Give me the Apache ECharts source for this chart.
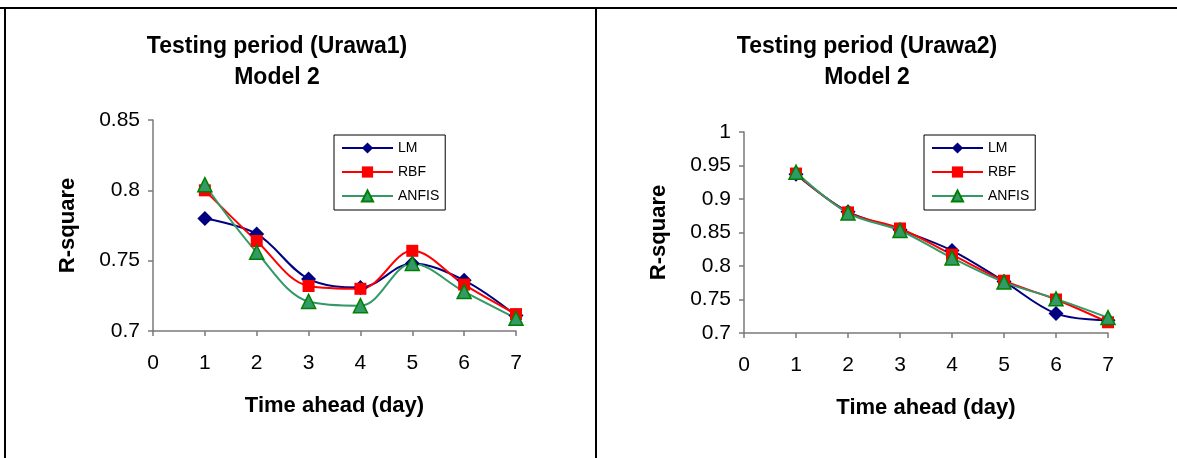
<!DOCTYPE html>
<html>
<head>
<meta charset="utf-8">
<title>Testing period R-square</title>
<script src="https://cdn.jsdelivr.net/npm/echarts@6/dist/echarts.min.js"></script>
<style>
  html, body { margin: 0; padding: 0; background: #fff; }
  #main { width: 1177px; height: 458px; }
</style>
</head>
<body>
<div id="main"></div>
<script>
// time ahead (day)
const days = [1, 2, 3, 4, 5, 6, 7]
const seriesNames = ['LM', 'RBF', 'ANFIS']

// Urawa1, model 2
const urawa1LM = [0.780, 0.769, 0.737, 0.731, 0.748, 0.736, 0.711]
const urawa1RBF = [0.800, 0.764, 0.732, 0.730, 0.757, 0.733, 0.712]
const urawa1ANFIS = [0.804, 0.756, 0.721, 0.718, 0.748, 0.728, 0.709]

// Urawa2, model 2
const urawa2LM = [0.937, 0.881, 0.854, 0.823, 0.777, 0.729, 0.719]
const urawa2RBF = [0.938, 0.880, 0.856, 0.817, 0.778, 0.750, 0.716]
const urawa2ANFIS = [0.940, 0.879, 0.853, 0.812, 0.776, 0.751, 0.723]

const FONT = '"Liberation Sans", Arial, sans-serif'
const axisGray = '#7a7a7a'

// 样式
const styles = {
  LM: { symbol: 'diamond', symbolSize: 15, color: '#000080', line: '#000080', border: '#000080' },
  RBF: { symbol: 'rect', symbolSize: 12, color: '#ff0000', line: '#ff0000', border: '#ff0000' },
  ANFIS: { symbol: 'triangle', symbolSize: 14, color: '#339966', line: '#339966', border: '#008000' }
}

function makeSeries(name, values, idx) {
  const s = styles[name]
  return {
    name: name,
    type: 'line',
    xAxisIndex: idx,
    yAxisIndex: idx,
    data: days.map((d, i) => [d, values[i]]),
    smooth: 0.35,
    symbol: s.symbol,
    symbolSize: s.symbolSize,
    lineStyle: { color: s.line, width: 2 },
    itemStyle: { color: s.color, borderColor: s.border, borderWidth: name === 'ANFIS' ? 1.5 : 0 }
  }
}

function makeXAxis(idx) {
  return {
    type: 'value',
    gridIndex: idx,
    min: 0,
    max: 7,
    interval: 1,
    name: 'Time ahead (day)',
    nameLocation: 'middle',
    nameGap: 64,
    nameTextStyle: { fontSize: 22, fontWeight: 'bold', color: '#000', fontFamily: FONT },
    axisLine: { lineStyle: { color: axisGray, width: 1.5 } },
    axisTick: { length: 5, lineStyle: { color: axisGray, width: 1.5 } },
    axisLabel: { fontSize: 21, color: '#000', margin: 22, fontFamily: FONT },
    splitLine: { show: false }
  }
}

function makeYAxis(idx, min, max) {
  return {
    type: 'value',
    gridIndex: idx,
    min: min,
    max: max,
    interval: 0.05,
    name: 'R-square',
    nameLocation: 'middle',
    nameRotate: 90,
    nameGap: 74,
    nameTextStyle: { fontSize: 22, fontWeight: 'bold', color: '#000', fontFamily: FONT },
    axisLine: { show: true, lineStyle: { color: axisGray, width: 1.5 } },
    axisTick: { show: true, length: 5, lineStyle: { color: axisGray, width: 1.5 } },
    axisLabel: { fontSize: 21, color: '#000', margin: 13, fontFamily: FONT },
    splitLine: { show: false }
  }
}

function makeLegend(left) {
  return {
    data: seriesNames,
    orient: 'vertical',
    left: left,
    top: 135,
    padding: [6, 6, 7, 7],
    itemWidth: 51,
    itemHeight: 14,
    itemGap: 10,
    borderColor: '#000',
    borderWidth: 1,
    backgroundColor: '#fff',
    textStyle: { fontSize: 14, color: '#000', fontFamily: FONT }
  }
}

const option = {
  animation: false,
  backgroundColor: '#fff',
  graphic: [
    // 外框
    { type: 'line', shape: { x1: 0, y1: 8, x2: 1177, y2: 8 }, style: { stroke: '#000', lineWidth: 2 } },
    { type: 'line', shape: { x1: 5, y1: 8, x2: 5, y2: 458 }, style: { stroke: '#000', lineWidth: 2 } },
    { type: 'line', shape: { x1: 596, y1: 8, x2: 596, y2: 458 }, style: { stroke: '#000', lineWidth: 2 } },
    // 标题
    {
      type: 'text', x: 277, y: 62,
      style: { text: 'Testing period (Urawa1)\nModel 2', align: 'center', verticalAlign: 'middle',
        font: 'bold 23px ' + FONT, lineHeight: 31, fill: '#000' }
    },
    {
      type: 'text', x: 867, y: 62,
      style: { text: 'Testing period (Urawa2)\nModel 2', align: 'center', verticalAlign: 'middle',
        font: 'bold 23px ' + FONT, lineHeight: 31, fill: '#000' }
    }
  ],
  legend: [makeLegend(334), makeLegend(924)],
  grid: [
    { left: 153, top: 120, width: 363, height: 211 },
    { left: 744, top: 132, width: 364, height: 201 }
  ],
  xAxis: [makeXAxis(0), makeXAxis(1)],
  yAxis: [makeYAxis(0, 0.7, 0.85), makeYAxis(1, 0.7, 1)],
  series: [
    makeSeries('LM', urawa1LM, 0),
    makeSeries('RBF', urawa1RBF, 0),
    makeSeries('ANFIS', urawa1ANFIS, 0),
    makeSeries('LM', urawa2LM, 1),
    makeSeries('RBF', urawa2RBF, 1),
    makeSeries('ANFIS', urawa2ANFIS, 1)
  ]
}

var chart = echarts.init(document.getElementById('main'))
chart.setOption(option)
</script>
</body>
</html>
